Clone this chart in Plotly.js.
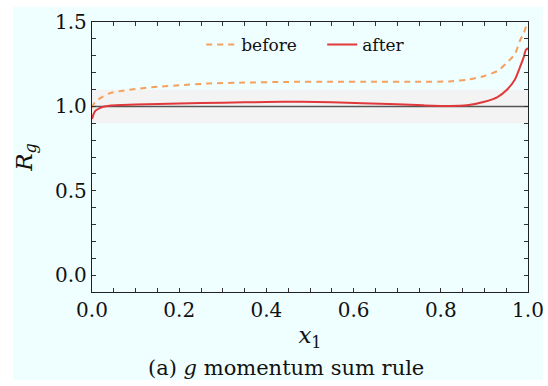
<!DOCTYPE html>
<html>
<head>
<meta charset="utf-8">
<script src="https://cdn.plot.ly/plotly-3.0.1.min.js"></script>
<style>html,body{margin:0;padding:0;background:#fff;}#plot{width:548px;height:386px;}</style>
</head>
<body>
<div id="plot"></div>
<script>
const xBefore = [0, 0.003, 0.008, 0.018, 0.04, 0.07, 0.1, 0.15, 0.2, 0.27, 0.35, 0.45, 0.55, 0.65, 0.75, 0.82, 0.86, 0.9, 0.93, 0.95, 0.97, 0.982, 0.99, 0.995, 1.0];
const yBefore = [0.99, 1.008, 1.03, 1.047, 1.077, 1.093, 1.103, 1.116, 1.125, 1.136, 1.141, 1.145, 1.146, 1.146, 1.146, 1.148, 1.158, 1.18, 1.21, 1.255, 1.31, 1.393, 1.43, 1.47, 1.5];
const xAfter = [0, 0.003, 0.006, 0.01, 0.018, 0.026, 0.04, 0.07, 0.1, 0.2, 0.3, 0.4, 0.48, 0.55, 0.62, 0.7, 0.76, 0.82, 0.86, 0.9, 0.93, 0.951, 0.97, 0.982, 0.99, 0.995, 1.0];
const yAfter = [0.925, 0.95, 0.967, 0.978, 0.99, 0.998, 1.004, 1.008, 1.011, 1.017, 1.022, 1.026, 1.027, 1.025, 1.019, 1.012, 1.006, 1.002, 1.006, 1.027, 1.055, 1.097, 1.16, 1.235, 1.29, 1.334, 1.345];
const seriesNames = ["before", "after"];
const bandLow = 0.9, bandHigh = 1.1, refLine = 1.0;
const xTicks = [0, 0.2, 0.4, 0.6, 0.8, 1.0];
const xTickText = ["0.0", "0.2", "0.4", "0.6", "0.8", "1.0"];
const yTicks = [0, 0.5, 1.0, 1.5];
const yTickText = ["0.0", "0.5", "1.0", "1.5"];
const captionText = "(a) <i>g</i> momentum sum rule";

const FONT = "DejaVu Serif";

const traces = [
  {x: xBefore, y: yBefore, name: seriesNames[0], mode: "lines", type: "scatter",
   line: {color: "#f5a05c", width: 2, dash: "6px,5px", shape: "spline", smoothing: 0.6}},
  {x: xAfter, y: yAfter, name: seriesNames[1], mode: "lines", type: "scatter",
   line: {color: "#e0383b", width: 2, shape: "spline", smoothing: 0.6}}
];

const axisCommon = {
  showgrid: false, zeroline: false, showline: true, linecolor: "#222", linewidth: 1.2,
  mirror: "ticks", ticks: "inside", ticklen: 4, tickwidth: 1, tickcolor: "#333",
  tickfont: {family: FONT, size: 20, color: "#111"}
};

const layout = {
  width: 548, height: 386,
  margin: {l: 92, r: 20, t: 22, b: 94},
  paper_bgcolor: "#ffffff",
  plot_bgcolor: "rgba(0,0,0,0)",
  font: {family: FONT, color: "#111", size: 18},
  showlegend: true,
  legend: {orientation: "h", x: 0.528, y: 0.915, xanchor: "center", yanchor: "middle",
           bgcolor: "rgba(0,0,0,0)", font: {family: FONT, size: 17, color: "#111"},
           entrywidth: 76, entrywidthmode: "pixels"},
  xaxis: Object.assign({}, axisCommon, {
    range: [0, 1], tickmode: "array", tickvals: xTicks, ticktext: xTickText,
    minor: {dtick: 0.05, ticks: "inside", ticklen: 4, tickcolor: "#333", showgrid: false},
    title: {text: "<i>x</i><sub>1</sub>", font: {family: FONT, size: 23}, standoff: 5}
  }),
  yaxis: Object.assign({}, axisCommon, {
    range: [-0.1, 1.5], tickmode: "array", tickvals: yTicks, ticktext: yTickText,
    minor: {dtick: 0.1, ticks: "inside", ticklen: 4, tickcolor: "#333", showgrid: false},
    title: {text: "<i>R</i><sub><i>g</i></sub>", font: {family: FONT, size: 23}, standoff: 16}
  }),
  shapes: [
    {type: "rect", xref: "paper", yref: "paper", x0: -0.181, x1: 1.034, y0: -0.326, y1: 1.056,
     fillcolor: "#effefe", line: {width: 0}, layer: "below"},
    {type: "rect", xref: "x", yref: "y", x0: 0, x1: 1, y0: bandLow, y1: bandHigh,
     fillcolor: "#f3f3f3", line: {width: 0}, layer: "below"},
    {type: "line", xref: "x", yref: "y", x0: 0, x1: 1, y0: refLine, y1: refLine,
     line: {color: "#555", width: 1.5}, layer: "below"}
  ],
  annotations: [
    {xref: "paper", yref: "paper", x: 0.445, y: -0.28, xanchor: "center", yanchor: "middle",
     showarrow: false, text: captionText,
     font: {family: FONT, size: 21, color: "#111"}}
  ]
};

Plotly.newPlot("plot", traces, layout, {displayModeBar: false, staticPlot: true});
</script>
</body>
</html>
